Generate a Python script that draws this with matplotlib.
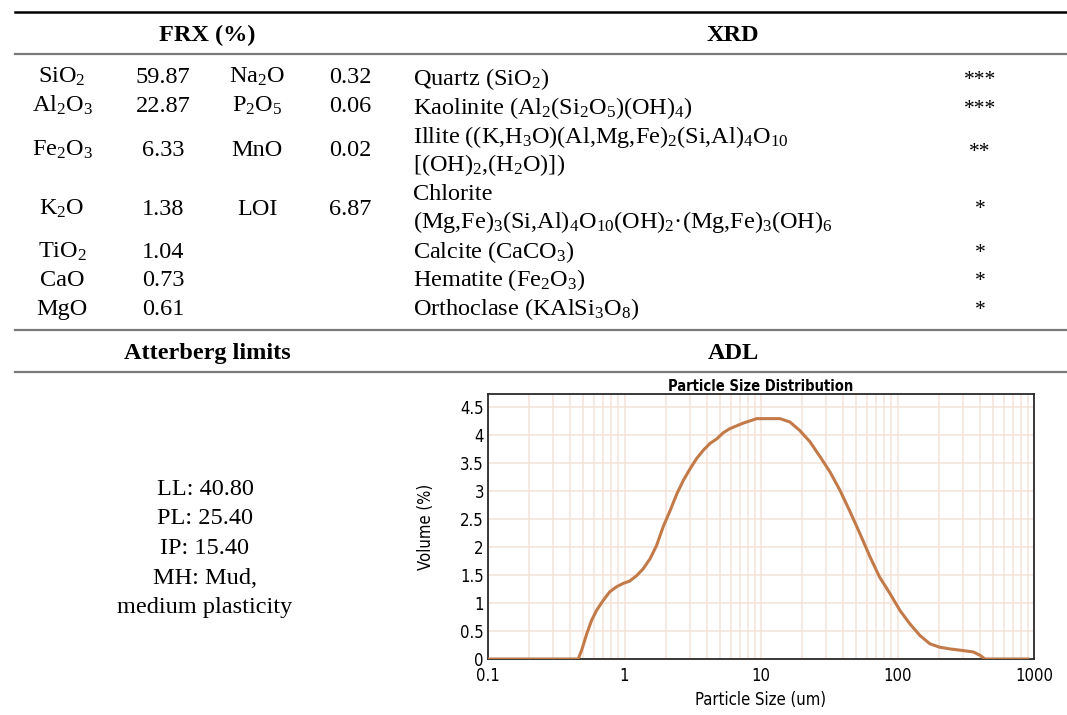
import matplotlib
matplotlib.use('Agg')
import matplotlib.pyplot as plt
from matplotlib.ticker import FixedLocator, LogLocator, NullFormatter

plt.rcParams['font.family'] = ['Liberation Serif', 'DejaVu Serif']
plt.rcParams['mathtext.fontset'] = 'custom'
plt.rcParams['mathtext.rm'] = 'Liberation Serif'
plt.rcParams['mathtext.it'] = 'Liberation Serif:italic'
plt.rcParams['mathtext.bf'] = 'Liberation Serif:bold'

# FRX (%) table
oxides_a = ['SiO$_2$', 'Al$_2$O$_3$', 'Fe$_2$O$_3$', 'K$_2$O', 'TiO$_2$', 'CaO', 'MgO']
values_a = ['59.87', '22.87', '6.33', '1.38', '1.04', '0.73', '0.61']
oxides_b = ['Na$_2$O', 'P$_2$O$_5$', 'MnO', 'LOI']
values_b = ['0.32', '0.06', '0.02', '6.87']

# XRD minerals
minerals = [
    'Quartz (SiO$_2$)',
    'Kaolinite (Al$_2$(Si$_2$O$_5$)(OH)$_4$)',
    'Illite ((K,H$_3$O)(Al,Mg,Fe)$_2$(Si,Al)$_4$O$_{10}$\n[(OH)$_2$,(H$_2$O)])',
    'Chlorite\n(Mg,Fe)$_3$(Si,Al)$_4$O$_{10}$(OH)$_2$·(Mg,Fe)$_3$(OH)$_6$',
    'Calcite (CaCO$_3$)',
    'Hematite (Fe$_2$O$_3$)',
    'Orthoclase (KAlSi$_3$O$_8$)',
]
abundance = ['***', '***', '**', '*', '*', '*', '*']

# Atterberg limits
atterberg = ['LL: 40.80', 'PL: 25.40', 'IP: 15.40', 'MH: Mud,', 'medium plasticity']

# ADL particle size distribution
size_um = [0.1, 0.2, 0.3, 0.458, 0.485, 0.529, 0.574, 0.625, 0.70, 0.78, 0.875, 0.98,
           1.09, 1.23, 1.37, 1.54, 1.72, 1.92, 2.16, 2.42, 2.70, 3.03, 3.38, 3.79,
           4.24, 4.75, 5.3, 5.9, 7.4, 9.3, 13.8, 16.3, 19.2, 22.8, 27.1, 32, 37.9,
           44.9, 53, 63, 74, 88, 104, 123, 146, 173, 204, 242, 304, 360, 403, 437,
           600, 900]
volume = [0, 0, 0, 0, 0.155, 0.45, 0.69, 0.87, 1.05, 1.20, 1.29, 1.35,
          1.39, 1.49, 1.61, 1.79, 2.03, 2.36, 2.65, 2.95, 3.19, 3.40, 3.58, 3.73,
          3.85, 3.93, 4.04, 4.11, 4.21, 4.29, 4.29, 4.23, 4.08, 3.88, 3.61, 3.34, 3.01,
          2.63, 2.24, 1.82, 1.46, 1.17, 0.87, 0.63, 0.42, 0.27, 0.21, 0.18, 0.15, 0.125, 0.065, 0,
          0, 0]

W, H = 1067, 715
fig = plt.figure(figsize=(W / 100, H / 100), dpi=100)

# page-like axes in pixel coordinates for the table
ax0 = fig.add_axes([0, 0, 1, 1])
ax0.set_xlim(0, W)
ax0.set_ylim(H, 0)
ax0.axis('off')

fs = 17.5
base = 8  # baseline offset below the visual centre of a row

ax0.plot([15, W], [12, 12], color='black', lw=1.8)
for y in [54, 330, 372]:
    ax0.plot([15, W], [y, y], color='#7a7a7a', lw=1.6)

ax0.text(207, 33 + base, 'FRX (%)', fontsize=fs, fontweight='bold', ha='center', va='baseline')
ax0.text(733, 33 + base, 'XRD', fontsize=fs, fontweight='bold', ha='center', va='baseline')
ax0.text(207, 351 + base, 'Atterberg limits', fontsize=fs, fontweight='bold', ha='center', va='baseline')
ax0.text(733, 351 + base, 'ADL', fontsize=fs, fontweight='bold', ha='center', va='baseline')

rows_a = [75, 104, 148, 207, 250, 278, 307]
for y, name, val in zip(rows_a, oxides_a, values_a):
    ax0.text(62, y + base, name, fontsize=fs, ha='center', va='baseline')
    ax0.text(163, y + base, val, fontsize=fs, ha='center', va='baseline')
for y, name, val in zip(rows_a[:4], oxides_b, values_b):
    ax0.text(257, y + base, name, fontsize=fs, ha='center', va='baseline')
    ax0.text(350, y + base, val, fontsize=fs, ha='center', va='baseline')

rows_x = [[77], [106], [135, 163], [192, 220], [250], [278], [307]]
for ys, name, star in zip(rows_x, minerals, abundance):
    for y, line in zip(ys, name.split('\n')):
        ax0.text(413, y + base, line, fontsize=fs, ha='left', va='baseline')
    yc = sum(ys) / len(ys)
    ax0.text(980, yc + base, star, fontsize=fs - 2, ha='center', va='baseline')

for i, line in enumerate(atterberg):
    ax0.text(205, 487 + i * 29.5 + base, line, fontsize=fs, ha='center', va='baseline')

# particle size distribution chart
ax = fig.add_axes([488 / W, (H - 659) / H, (1034 - 488) / W, (659 - 394) / H])
sans = {'family': ['DejaVu Sans'], 'stretch': 'condensed'}
ax.plot(size_um, volume, color='#c27a48', lw=2.2, zorder=3)
ax.set_xscale('log')
ax.set_xlim(0.1, 1000)
ax.set_ylim(0, 4.73)
ax.xaxis.set_major_locator(FixedLocator([0.1, 1, 10, 100, 1000]))
ax.xaxis.set_minor_locator(LogLocator(base=10, subs=range(2, 10)))
ax.xaxis.set_minor_formatter(NullFormatter())
ax.set_xticks([0.1, 1, 10, 100, 1000])
ax.set_xticklabels(['0.1', '1', '10', '100', '1000'], fontdict=sans, fontsize=12)
yt = [0, 0.5, 1, 1.5, 2, 2.5, 3, 3.5, 4, 4.5]
ax.set_yticks(yt)
ax.set_yticklabels(['%g' % v for v in yt], fontdict=sans, fontsize=12)
ax.tick_params(axis='both', which='both', length=0)
ax.tick_params(axis='x', pad=6)
ax.tick_params(axis='y', pad=3)
ax.grid(True, which='both', axis='x', color='#f3e3d8', lw=1.1)
ax.grid(True, which='major', axis='y', color='#f3e3d8', lw=1.1)
ax.set_axisbelow(True)
for s in ax.spines.values():
    s.set_color('#2a2a2a')
    s.set_linewidth(1.3)
ax.set_title('Particle Size Distribution', fontdict=sans, fontsize=10.5, fontweight='bold', pad=1)
ax.set_xlabel('Particle Size (um)', fontdict=sans, fontsize=12, labelpad=4)
ax.set_ylabel('Volume (%)', fontdict=sans, fontsize=12, labelpad=18)

fig.savefig('out.png', dpi=100)
